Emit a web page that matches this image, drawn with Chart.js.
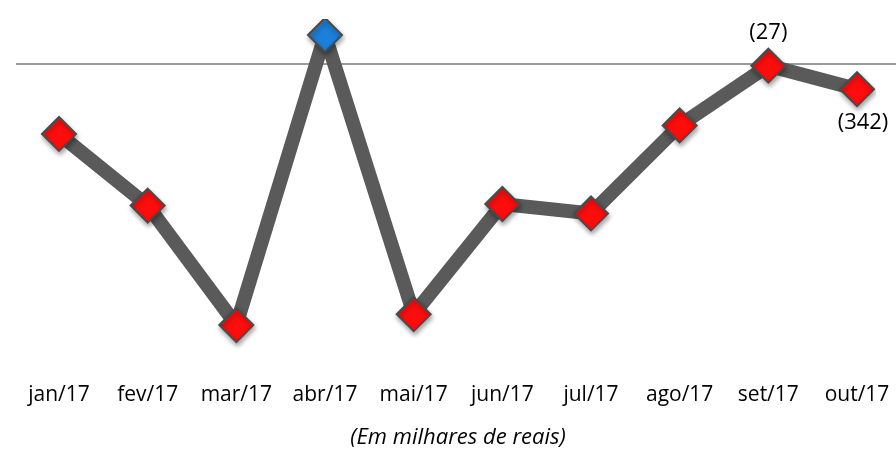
<!DOCTYPE html>
<html>
<head>
<meta charset="utf-8">
<script src="https://cdn.jsdelivr.net/npm/chart.js@4"></script>
<style>
  html, body { margin: 0; padding: 0; background: #fff; }
  #wrap { width: 896px; height: 452px; }
</style>
</head>
<body>
<div id="wrap"><canvas id="chart"></canvas></div>
<script>
const months = ['jan/17', 'fev/17', 'mar/17', 'abr/17', 'mai/17', 'jun/17', 'jul/17', 'ago/17', 'set/17', 'out/17'];
const result = [-944, -1906, -3511, 386, -3365, -1885, -2012, -829, -27, -342];
// which points carry a value label, and where
const labelAt = [null, null, null, null, null, null, null, null, 'above', 'below'];

const fmt = v => v < 0 ? '(' + Math.abs(v) + ')' : String(v);
const markColor = result.map(v => v >= 0 ? '#1c7fd9' : '#ff0d0d');

// zero line, wider than the plot area like the original
const zeroLine = {
    id: 'zeroLine',
    beforeDatasetsDraw(chart) {
        const ctx = chart.ctx;
        const y = Math.round(chart.scales.y.getPixelForValue(0));
        ctx.save();
        ctx.strokeStyle = '#9a9a9a';
        ctx.lineWidth = 2;
        ctx.beginPath();
        ctx.moveTo(16, y);
        ctx.lineTo(chart.width, y);
        ctx.stroke();
        ctx.restore();
    }
};

// soft shadow under the diamonds only
const markShadow = {
    id: 'markShadow',
    beforeDatasetDraw(chart, args) {
        if (args.index !== 0) return;
        const ctx = chart.ctx;
        ctx.save();
        ctx.shadowColor = 'rgba(0,0,0,0.35)';
        ctx.shadowBlur = 5;
        ctx.shadowOffsetX = 1;
        ctx.shadowOffsetY = 3;
    },
    afterDatasetDraw(chart, args) {
        if (args.index !== 0) return;
        chart.ctx.restore();
    }
};

const valueLabels = {
    id: 'valueLabels',
    afterDatasetsDraw(chart) {
        const ctx = chart.ctx;
        const meta = chart.getDatasetMeta(0);
        ctx.save();
        ctx.font = '22px "Open Sans"';
        ctx.fillStyle = '#000';
        ctx.textAlign = 'center';
        ctx.textBaseline = 'middle';
        meta.data.forEach((pt, i) => {
            if (!labelAt[i]) return;
            const dy = labelAt[i] === 'above' ? -33 : 34;
            const dx = labelAt[i] === 'above' ? 0 : 6;
            ctx.fillText(fmt(result[i]), pt.x + dx, pt.y + dy);
        });
        ctx.restore();
    }
};

new Chart(document.getElementById('chart'), {
    type: 'line',
    data: {
        labels: months,
        datasets: [
            {
                data: result,
                showLine: false,
                pointStyle: 'rectRot',
                pointRadius: 17,
                pointBorderWidth: 2,
                pointBorderColor: '#4a4a4a',
                pointBackgroundColor: markColor,
                order: 0
            },
            {
                data: result,
                borderColor: '#5a5a5a',
                borderWidth: 14,
                borderJoinStyle: 'miter',
                pointRadius: 0,
                tension: 0,
                fill: false,
                order: 1
            }
        ]
    },
    options: {
        responsive: true,
        maintainAspectRatio: false,
        animation: false,
        events: [],
        layout: { padding: { top: 16, left: 59, right: 39, bottom: 0 } },
        plugins: {
            legend: { display: false },
            tooltip: { enabled: false }
        },
        scales: {
            x: {
                grid: { display: false },
                border: { display: false },
                ticks: {
                    padding: 20,
                    color: '#000',
                    maxRotation: 0,
                    font: { family: 'Open Sans', size: 21 }
                },
                title: {
                    display: true,
                    text: '(Em milhares de reais)',
                    color: '#000',
                    font: { family: 'Open Sans', size: 22, style: 'italic' },
                    padding: { top: 0, bottom: 1 }
                },
                afterFit: s => {
                    s.height = 98;
                    s.paddingLeft = 0;
                    s.paddingRight = 0;
                }
            },
            y: {
                display: false,
                min: -3900,
                max: 600
            }
        }
    },
    plugins: [zeroLine, markShadow, valueLabels]
});
</script>
</body>
</html>
